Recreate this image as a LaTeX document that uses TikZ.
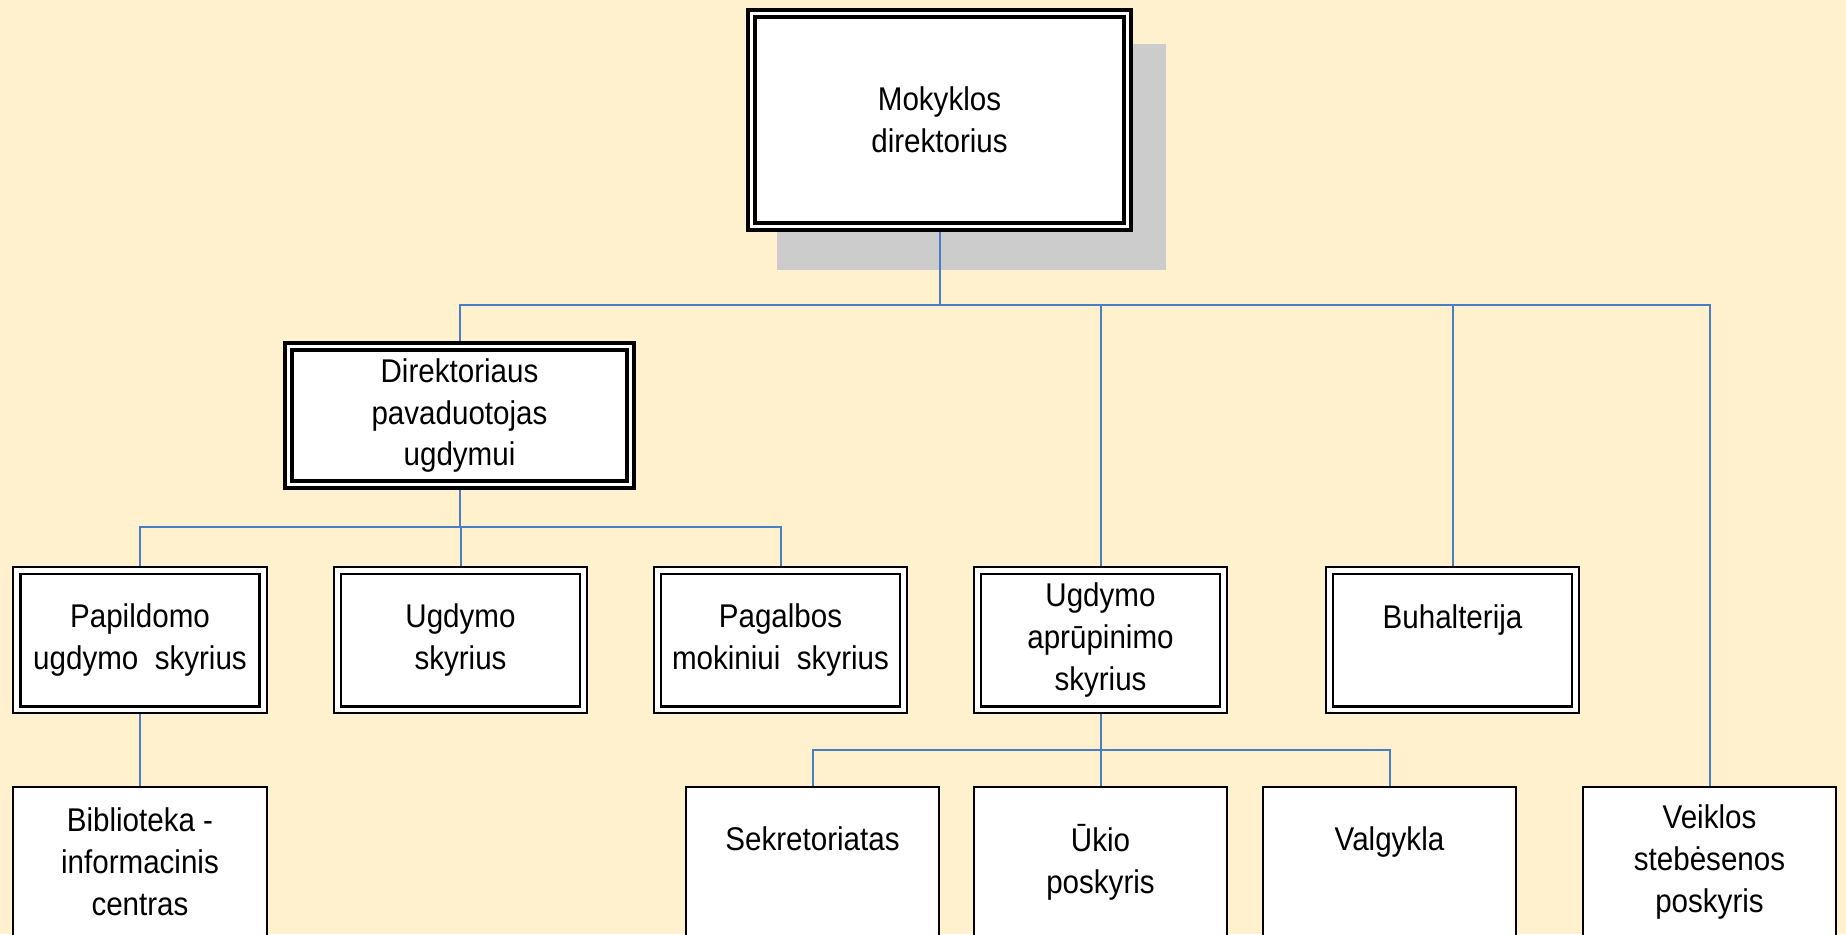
\documentclass[tikz,border=0pt]{standalone}
\usepackage{fontspec}
\setmainfont{Liberation Sans}[FakeStretch=0.9]
\definecolor{haikei}{RGB}{255,240,206}
\definecolor{sen}{RGB}{74,126,196}
\definecolor{kage}{RGB}{204,204,204}
\tikzset{
  headbox/.style={draw, line width=0.08cm, double=white, double distance=0.06cm, fill=white, inner sep=0pt, outer sep=0.11cm, align=center},
  deptbox/.style={draw, line width=0.04cm, fill=white, inner sep=0pt, align=center, minimum width=5.08cm, minimum height=2.94cm,
    path picture={\draw[line width=0.056cm] ([shift={(0.148cm,0.148cm)}]path picture bounding box.south west) rectangle ([shift={(-0.148cm,-0.148cm)}]path picture bounding box.north east);}},
  unitbox/.style={draw, line width=0.04cm, fill=white, inner sep=0pt, outer sep=0.02cm, align=center, minimum width=5.08cm, minimum height=3cm},
  link/.style={sen, line width=0.04cm}
}
\begin{document}
\begin{tikzpicture}[x=0.02cm,y=-0.02cm,font=\fontsize{18.7}{23.8}\selectfont]
   % 背景
   \fill[haikei] (0,0) rectangle (1846,934);
   \clip (0,0) rectangle (1846,934);
   \fill[kage] (777,44) rectangle (1166,270);

   % 上段
   \node [headbox, minimum width=7.52cm, minimum height=4.26cm] (direktorius) at (939.5,120) {Mokyklos\\direktorius};
   \node [headbox, minimum width=6.84cm, minimum height=2.76cm] (pavaduotojas) at (459.5,415.5) {Direktoriaus\\pavaduotojas\\ugdymui};

   % 中段
   \node [deptbox] (papildomo) at (140,640) {Papildomo\\ugdymo\ \ skyrius};
   \node [deptbox] (ugdymo) at (460.5,640) {Ugdymo\\skyrius};
   \node [deptbox] (pagalbos) at (780.5,640) {Pagalbos\\mokiniui\ \ skyrius};
   \node [deptbox] (aprupinimo) at (1100.5,640) {Ugdymo\\aprūpinimo\\skyrius};
   \node [deptbox] (buhalterija) at (1452.5,640) {Buhalterija\\[3pt]\mbox{}};

   % 下段
   \node [unitbox] (biblioteka) at (140,862) {Biblioteka -\\informacinis\\centras};
   \node [unitbox] (sekretoriatas) at (812.5,862) {Sekretoriatas\\[3pt]\mbox{}};
   \node [unitbox] (ukio) at (1100.5,862) {Ūkio\\poskyris};
   \node [unitbox] (valgykla) at (1389.5,862) {Valgykla\\[3pt]\mbox{}};
   \node [unitbox] (veiklos) at (1709.5,862) {Veiklos\\stebėsenos\\poskyris};

   % 接続線
   \coordinate (bus1) at (0,305);
   \coordinate (bus2) at (0,527);
   \coordinate (bus3) at (0,750);
   \draw[link] (direktorius.south) -- (direktorius.south |- bus1) -| (pavaduotojas.north);
   \foreach \n in {aprupinimo,buhalterija,veiklos}
     \draw[link] (direktorius.south |- bus1) -| (\n.north);
   \draw[link] (pavaduotojas.south) -- (pavaduotojas.south |- bus2) -| (papildomo.north);
   \foreach \n in {ugdymo,pagalbos}
     \draw[link] (pavaduotojas.south |- bus2) -| (\n.north);
   \draw[link] (papildomo.south) -- (biblioteka.north);
   \draw[link] (aprupinimo.south) -- (aprupinimo.south |- bus3) -| (sekretoriatas.north);
   \foreach \n in {ukio,valgykla}
     \draw[link] (aprupinimo.south |- bus3) -| (\n.north);

\end{tikzpicture}
\end{document}
